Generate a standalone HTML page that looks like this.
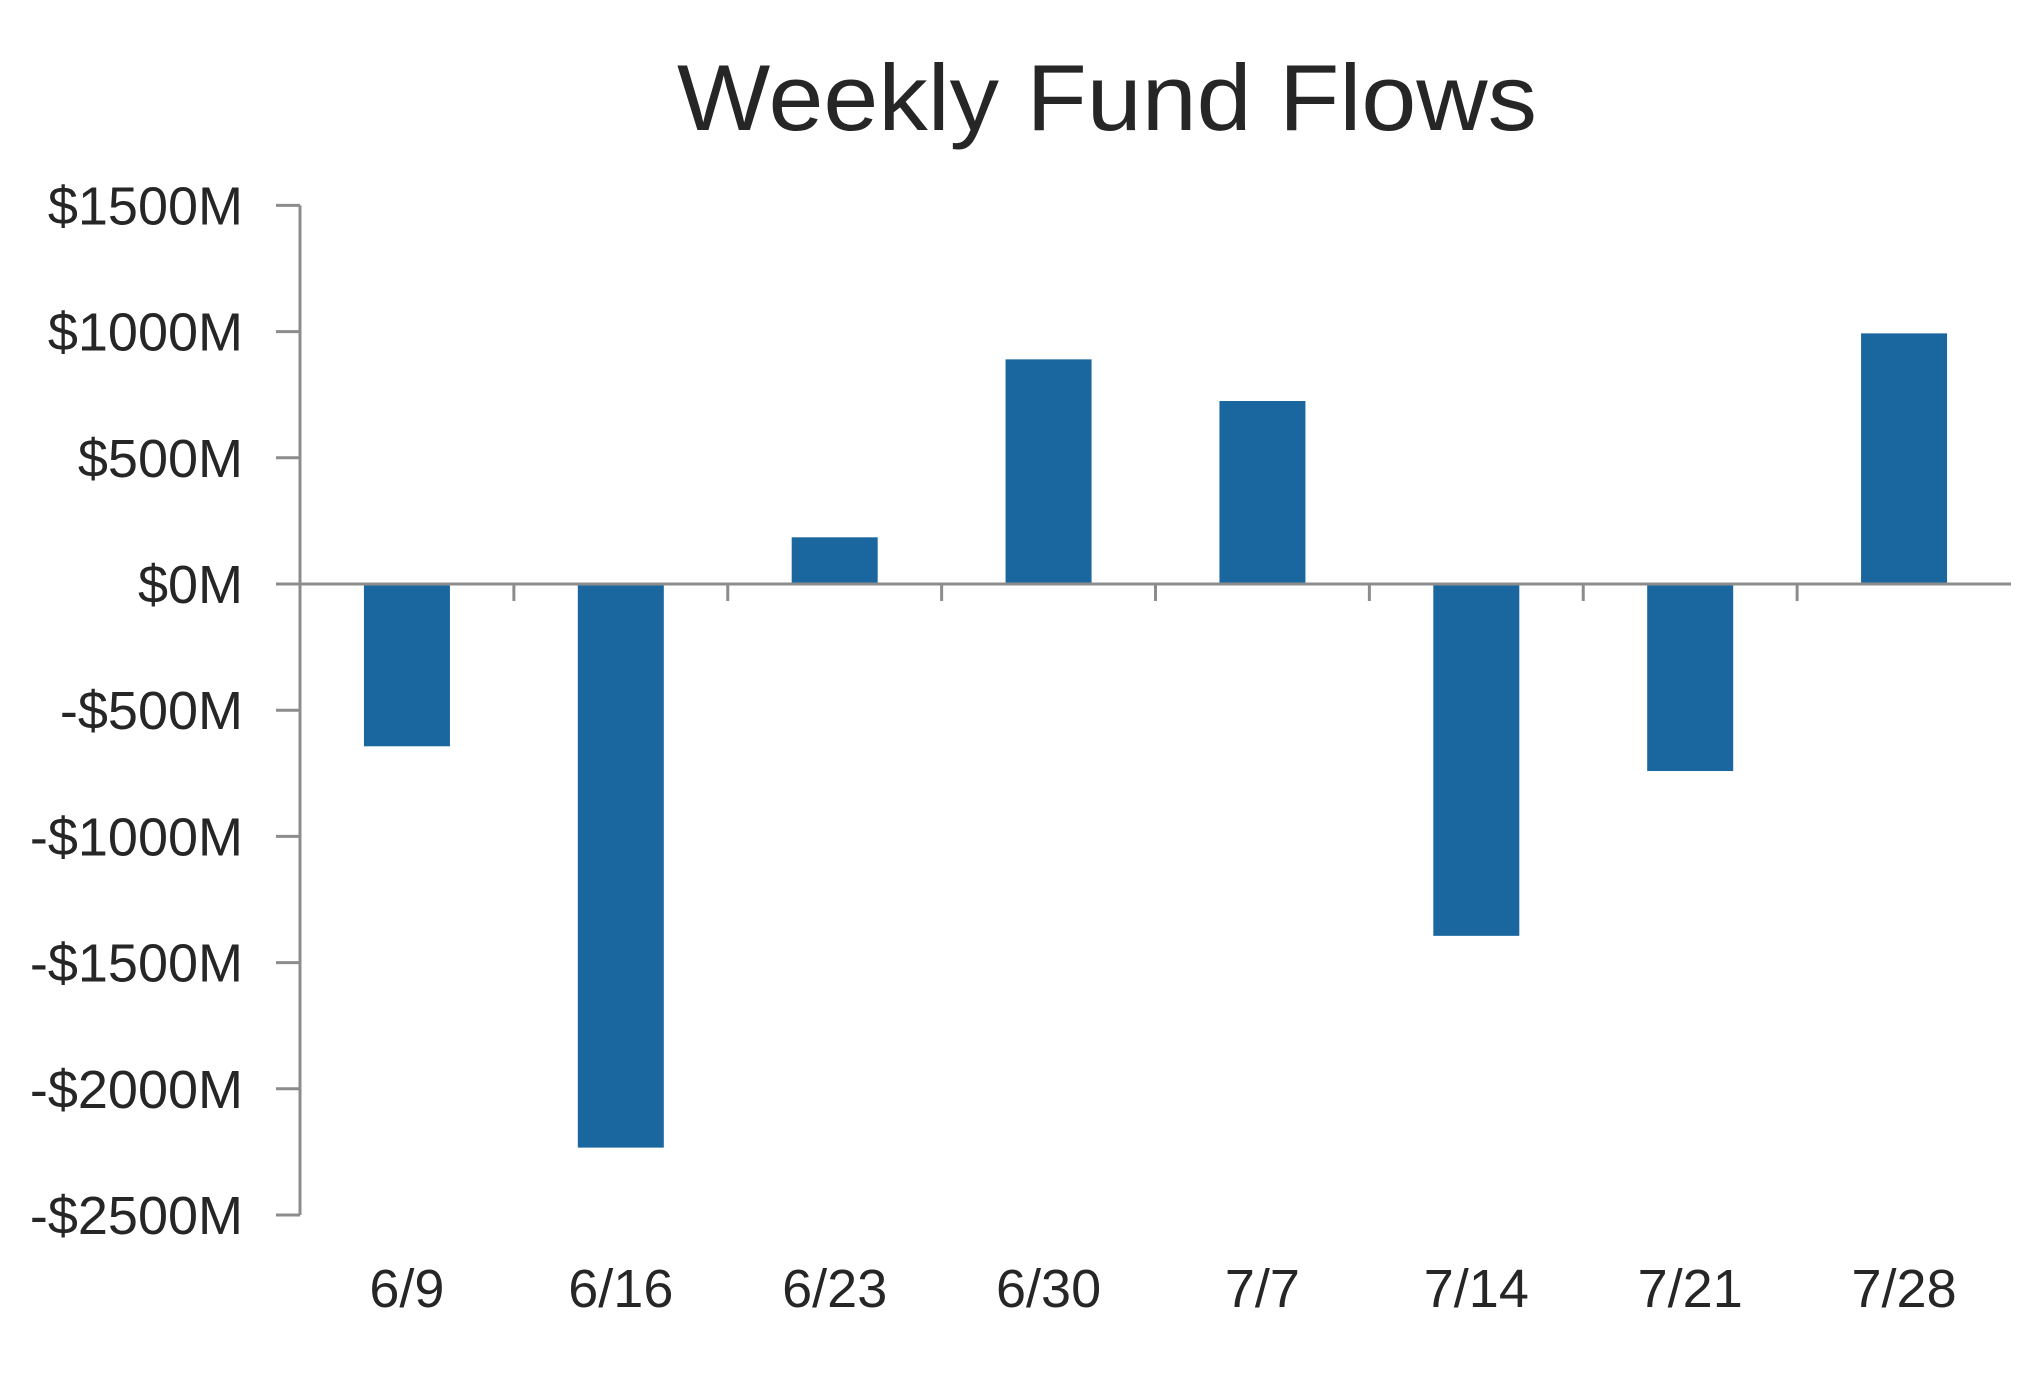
<!DOCTYPE html>
<html><head><meta charset="utf-8"><style>
html,body{margin:0;padding:0;background:#fff;}
svg{display:block;font-family:"Liberation Sans",sans-serif;}
</style></head><body>
<svg id="chart" width="2035" height="1375" viewBox="0 0 2035 1375" xmlns="http://www.w3.org/2000/svg">
<rect width="2035" height="1375" fill="#fff"/>
<text x="1107" y="130" text-anchor="middle" font-size="94" fill="#262626" textLength="860" lengthAdjust="spacingAndGlyphs">Weekly Fund Flows</text>
<g id="grid"></g>
<g id="bars"></g>
<g id="axes"></g>
</svg>
<script>
const categories = ["6/9","6/16","6/23","6/30","7/7","7/14","7/21","7/28"];
const flows = [-643,-2233,185,890,725,-1394,-741,993];
const yTicks = [1500,1000,500,0,-500,-1000,-1500,-2000,-2500];
const yTickLabels = ["$1500M","$1000M","$500M","$0M","-$500M","-$1000M","-$1500M","-$2000M","-$2500M"];

const NS="http://www.w3.org/2000/svg";
const plotLeft=300, plotRight=2011, yZero=584, pxPer=126.2/500;
function yScale(v){return yZero - v*pxPer;}
const band=(plotRight-plotLeft)/categories.length;
function xCenter(i){return plotLeft + band*(i+0.5);}
const barW=86;
function mk(tag,attrs,parent){const e=document.createElementNS(NS,tag);for(const k in attrs)e.setAttribute(k,attrs[k]);parent.appendChild(e);return e;}
const bars=document.getElementById('bars'), axes=document.getElementById('axes');

flows.forEach((v,i)=>{
  const y0=yScale(0), y1=yScale(v);
  const r=mk('rect',{x:xCenter(i)-barW/2,y:Math.min(y0,y1),width:barW,height:Math.abs(y1-y0),fill:'#1a67a0'},bars);
  
  
});

const yAxis=mk('line',{x1:plotLeft,y1:yScale(yTicks[0]),x2:plotLeft,y2:yScale(yTicks[yTicks.length-1]),stroke:'#8c8c8c','stroke-width':3},axes);


const xAxis=mk('line',{x1:plotLeft,y1:yZero,x2:plotRight,y2:yZero,stroke:'#8c8c8c','stroke-width':3},axes);



yTicks.forEach((t,i)=>{
  const y=yScale(t);
  const tk=mk('line',{x1:plotLeft-24,y1:y,x2:plotLeft,y2:y,stroke:'#8c8c8c','stroke-width':3},axes);
  
  
  const lb=mk('text',{x:243,y:y+19,'text-anchor':'end','font-size':54,fill:'#262626'},axes);
  lb.textContent=yTickLabels[i];
  
  
});

for(let i=1;i<categories.length;i++){
  const x=plotLeft+band*i;
  const tk=mk('line',{x1:x,y1:yZero,x2:x,y2:yZero+17,stroke:'#8c8c8c','stroke-width':3},axes);
  
  
}
categories.forEach((c,i)=>{
  const lb=mk('text',{x:xCenter(i),y:1307,'text-anchor':'middle','font-size':54,fill:'#262626'},axes);
  lb.textContent=c;
  
  
});
</script>
</body></html>
